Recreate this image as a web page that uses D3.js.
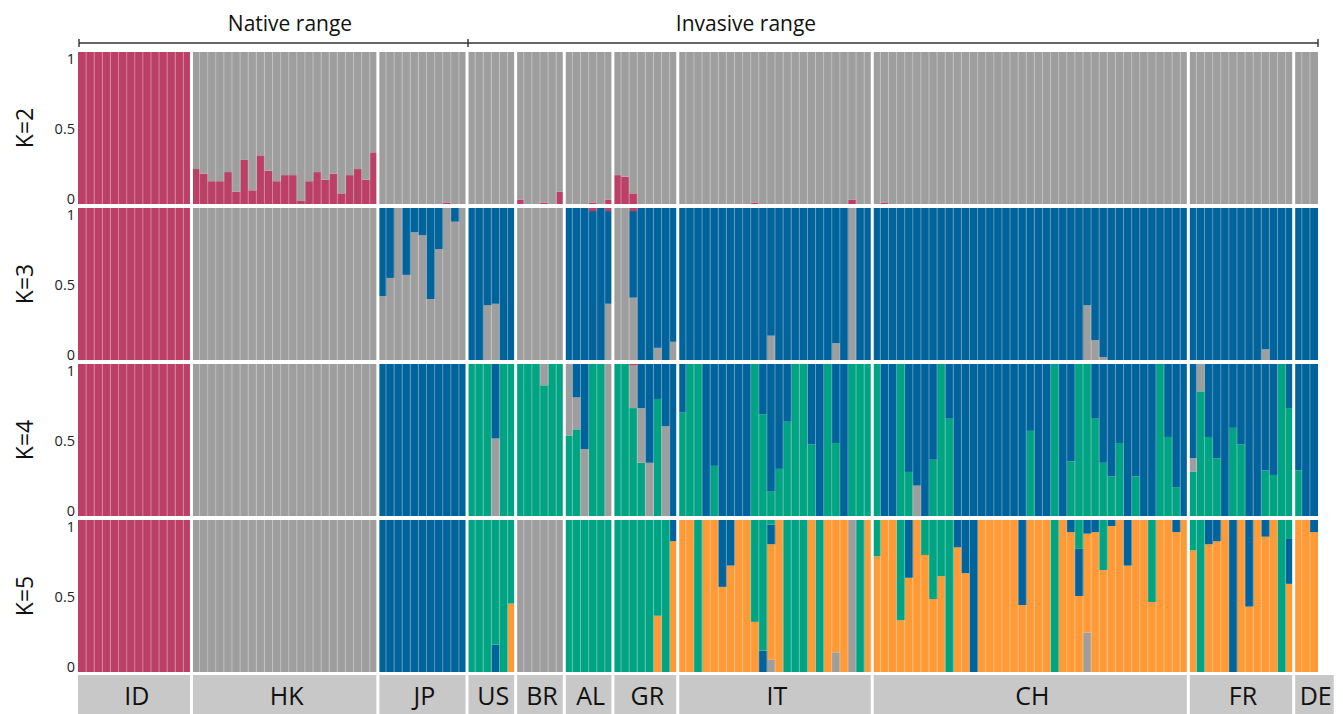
<!DOCTYPE html>
<html>
<head>
<meta charset="utf-8">
<script src="https://d3js.org/d3.v7.min.js"></script>
<style>
  body { margin: 0; background: #fff; }
  svg { display: block; font-family: "Open Sans", sans-serif; }
</style>
</head>
<body>
<div id="chart"></div>
<script>
// populations, left to right
const pops = ["ID", "HK", "JP", "US", "BR", "AL", "GR", "IT", "CH", "FR", "DE"];
const popSizes = [14, 23, 11, 6, 6, 6, 8, 24, 39, 13, 3];
const kLabels = ["K=2", "K=3", "K=4", "K=5"];
const axisTicks = [0, 0.5, 1];

// cluster codes: P pink, G grey, B blue, N green, O orange
// stacking order of each K, bottom to top
const order2 = ["P", "G"];
const order3 = ["G", "B", "P"];
const order4 = ["N", "G", "B", "P"];
const order5 = ["P", "G", "O", "B", "N"];

// ancestry of every individual, one string per population
// a bare letter means 100% of that cluster
const k2Rows = [
  "P,P,P,P,P,P,P,P,P,P,P,P,P,P",
  "P.23 G.77,P.20 G.80,P.15 G.85,P.15 G.85,P.21 G.79,P.08 G.92,P.29 G.71,P.09 G.91,P.32 G.68,P.22 G.78,P.15 G.85,P.19 G.81,P.19 G.81,P.02 G.98,P.15 G.85,P.21 G.79,P.16 G.84,P.20 G.80,P.07 G.93,P.19 G.81,P.23 G.77,P.16 G.84,P.34 G.66",
  "G,G,G,G,G,G,G,G,P.01 G.99,G,G",
  "G,G,G,G,G,G",
  "P.03 G.97,G,G,P.01 G.99,G,P.08 G.92",
  "G,G,G,P.01 G.99,G,P.03 G.97",
  "P.19 G.81,P.18 G.82,P.07 G.93,G,G,G,G,G",
  "G,G,G,G,G,G,G,G,G,P.01 G.99,G,G,G,G,G,G,G,G,G,G,G,P.03 G.97,G,G",
  "G,P.01 G.99,G,G,G,G,G,G,G,G,G,G,G,G,G,G,G,G,G,G,G,G,G,G,G,G,G,G,G,G,G,G,G,G,G,G,G,G,G",
  "G,G,G,G,G,G,G,G,G,G,G,G,G",
  "G,G,G"
];
const k3Rows = [
  "P,P,P,P,P,P,P,P,P,P,P,P,P,P",
  "G,G,G,G,G,G,G,G,G,G,G,G,G,G,G,G,G,G,G,G,G,G,G",
  "G.42 B.58,G.54 B.46,G,G.56 B.44,G.84 B.16,G.82 B.18,G.40 B.60,G.73 B.27,G,G.91 B.09,G",
  "B,B,G.36 B.64,G.37 B.63,B,B",
  "G,G,G,G,G,G",
  "B,B,B,B.98 P.02,B,G.37 B.61 P.02",
  "G,G,G.41 B.57 P.02,B,B,G.08 B.92,B,G.12 B.88",
  "B,B,B,B,B,B,B,B,B,B,B,G.16 B.84,B,B,B,B,B,B,B,G.11 B.89,B,G,B,B",
  "B,B,B,B,B,B,B,B,B,B,B,B,B,B,B,B,B,B,B,B,B,B,B,B,B,B,G.36 B.64,G.13 B.87,G.02 B.98,B,B,B,B,B,B,B,B,B,B",
  "B,B,B,B,B,B,B,B,B,G.07 B.93,B,B,B",
  "B,B,B"
];
const k4Rows = [
  "P,P,P,P,P,P,P,P,P,P,P,P,P,P",
  "G,G,G,G,G,G,G,G,G,G,G,G,G,G,G,G,G,G,G,G,G,G,G",
  "B,B,B,B,B,B,B,B,B,B,B",
  "N,N,N,G.51 B.49,N,N",
  "N,N,N,N.86 G.14,N,N",
  "N.53 G.47,N.57 G.21 B.22,G.44 B.56,N,N,G",
  "N,N,N.71 G.28 P.01,N.35 G.36 B.29,G.35 B.65,N.77 B.23,G.59 B.41,B",
  "N.68 B.32,N,N,B,N.33 B.67,B,B,B,B,N,N.67 B.33,N.16 B.84,N.31 B.69,N.62 B.38,N,N,N.47 B.53,B,N,N.48 B.52,B,N,N,N",
  "N,B,B,N,N.29 B.71,G.20 B.80,B,N.37 B.63,N,N.64 B.36,B,B,B,B,B,B,B,B,B,N.56 B.44,B,B,N,B,N.36 B.64,N,N,N.64 B.36,N.35 B.65,N.26 B.74,N.48 B.52,B,N.26 B.74,B,B,N,N.52 B.48,N.19 B.81,B",
  "N.29 G.09 B.62,N.82 G.18,N.52 B.48,N.38 B.62,B,N.58 B.42,N.47 B.53,B,B,N.30 B.70,N.27 B.73,N,N.71 B.29",
  "N.30 B.70,B,B"
];
const k5Rows = [
  "P,P,P,P,P,P,P,P,P,P,P,P,P,P",
  "G,G,G,G,G,G,G,G,G,G,G,G,G,G,G,G,G,G,G,G,G,G,G",
  "B,B,B,B,B,B,B,B,B,B,B",
  "N,N,N,B.18 N.82,N,O.45 N.55",
  "G,G,G,G,G,G",
  "N,N,N,N,N,N",
  "N,N,N,N,N,O.37 N.63,N,O.86 B.14",
  "O,O,N,O,O,O.56 B.44,O.70 B.30,O,O,O.33 N.67,B.14 N.86,G.08 O.76 B.13 N.03,O,N,N,N,O,N,O,G.13 O.87,O,G,N,O",
  "O.76 N.24,O,O,O.34 N.66,O.62 B.38,O,O.77 N.23,O.48 N.52,O.63 N.37,N,O.82 B.18,O.65 B.35,B,O,O,O,O,O,O.44 B.56,O,O,O,N,O,O.92 B.08,O.50 B.31 N.19,G.26 O.65 B.09,O.92 B.08,O.67 N.33,O.96 B.04,O,O.70 B.30,O,O,O.46 N.54,O,O,O.92 B.08,O",
  "O.80 N.20,N,O.84 B.16,O.86 B.14,O,B,O,O.43 B.57,O,O.89 B.11,O,N,O.58 B.30 N.12",
  "O,O,O.92 B.08"
];

const clusterColors = {P: "#bb4067", G: "#9e9e9e", B: "#00639b", N: "#00a483", O: "#ff9a36"};

const panels = [
  {label: kLabels[0], order: order2, rows: k2Rows},
  {label: kLabels[1], order: order3, rows: k3Rows},
  {label: kLabels[2], order: order4, rows: k4Rows},
  {label: kLabels[3], order: order5, rows: k5Rows}
];

var width = 1343, height = 714;
var left = 78, right = 1318;
var panelTop = 52, panelH = 152, panelStep = 156;
var sepWidth = 3;   // white line between populations

var svg = d3.select("#chart")
  .append("svg")
    .attr("width", width)
    .attr("height", height);

// every individual gets one unit, populations are contiguous
var individuals = [];
var popStarts = [];
var unit = 0;
pops.forEach(function(p, pi) {
  popStarts.push(unit);
  for (var j = 0; j < popSizes[pi]; j++) {
    individuals.push({pop: p, unit: unit, first: j == 0});
    unit += 1;
  }
});
var totalUnits = unit;

var x = d3.scaleLinear()
  .domain([0, totalUnits])
  .range([left, right]);
var bw = x(1) - x(0);

function parseRow(s, keys) {
  var row = {};
  keys.forEach(k => row[k] = 0);
  s.trim().split(" ").forEach(function(t) {
    row[t[0]] = t.length > 1 ? +t.slice(1) : 1;
  });
  return row;
}

panels.forEach(function(panel, ki) {
  var top = panelTop + ki * panelStep;
  var rows = [];
  panel.rows.forEach(function(s) {
    s.split(",").forEach(r => rows.push(parseRow(r, panel.order)));
  });

  var y = d3.scaleLinear()
    .domain([0, 1])
    .range([top + panelH, top]);

  var series = d3.stack().keys(panel.order)(rows);

  var g = svg.append("g");

  g.selectAll("g.layer")
    .data(series)
    .join("g")
      .attr("class", "layer")
      .attr("fill", d => clusterColors[d.key])
    .selectAll("rect")
    .data(d => d)
    .join("rect")
      .attr("x", (d, i) => x(individuals[i].unit))
      .attr("width", (d, i) => i == individuals.length - 1 ? bw : bw + 0.4)
      .attr("y", d => y(d[1]))
      .attr("height", d => Math.max(0, y(d[0]) - y(d[1])));

  // faint lines between individuals
  g.append("g")
    .selectAll("line")
    .data(individuals.filter(d => !d.first))
    .join("line")
      .attr("x1", d => x(d.unit))
      .attr("x2", d => x(d.unit))
      .attr("y1", top)
      .attr("y2", top + panelH)
      .attr("stroke", "#fff")
      .attr("stroke-opacity", 0.35)
      .attr("stroke-width", 1);

  // y axis 0 / 0.5 / 1
  var yAxis = g.append("g")
    .attr("transform", "translate(" + left + ",0)")
    .call(d3.axisLeft(y).tickValues(axisTicks).tickSize(0).tickPadding(3).tickFormat(d3.format("~g")));
  yAxis.select(".domain").remove();
  yAxis.selectAll("text")
    .attr("font-family", "Open Sans")
    .attr("font-size", 14.5)
    .attr("fill", "#222")
    .attr("dy", d => d == 1 ? "0.76em" : d == 0 ? "-0.06em" : "0.36em");

  g.append("text")
    .attr("transform", "translate(33," + (top + panelH / 2) + ") rotate(-90)")
    .attr("text-anchor", "middle")
    .attr("font-size", 23)
    .attr("fill", "#111")
    .text(panel.label);
});

// population label boxes
var labels = svg.append("g");
pops.forEach(function(p, pi) {
  var x0 = x(popStarts[pi]);
  var w = Math.max(x(popStarts[pi] + popSizes[pi]) - x0, 40);
  labels.append("rect")
    .attr("x", x0)
    .attr("y", 675)
    .attr("width", w)
    .attr("height", 40)
    .attr("fill", "#c8c8c8");
  labels.append("text")
    .attr("x", x0 + w / 2 + 2)
    .attr("y", 705)
    .attr("text-anchor", "middle")
    .attr("font-size", 25)
    .attr("fill", "#111")
    .text(p);
});

// white separators between populations, drawn over the bars
svg.append("g")
  .selectAll("line")
  .data(popStarts.slice(1))
  .join("line")
    .attr("x1", d => x(d))
    .attr("x2", d => x(d))
    .attr("y1", panelTop)
    .attr("y2", height)
    .attr("stroke", "#fff")
    .attr("stroke-width", sepWidth);

// native / invasive bracket
var split = x(popStarts[3]) + 1;
var bracket = svg.append("g")
  .attr("stroke", "#333")
  .attr("stroke-width", 1.4);
bracket.append("line").attr("x1", left + 1).attr("x2", right).attr("y1", 43).attr("y2", 43);
[left + 1, split, right].forEach(function(bx) {
  bracket.append("line").attr("x1", bx).attr("x2", bx).attr("y1", 39).attr("y2", 47);
});
svg.append("text")
  .attr("x", 290).attr("y", 31)
  .attr("text-anchor", "middle")
  .attr("font-size", 21)
  .attr("fill", "#111")
  .text("Native range");
svg.append("text")
  .attr("x", 746).attr("y", 31)
  .attr("text-anchor", "middle")
  .attr("font-size", 21)
  .attr("fill", "#111")
  .text("Invasive range");
</script>
</body>
</html>
